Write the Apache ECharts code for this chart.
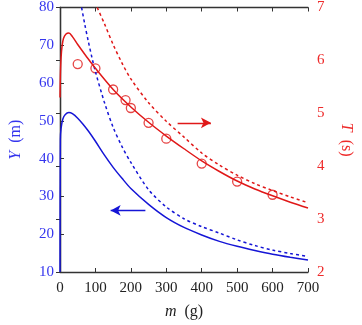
<!DOCTYPE html>
<html>
<head>
<meta charset="utf-8">
<script src="https://cdn.jsdelivr.net/npm/echarts@6/dist/echarts.min.js"></script>
<style>
  html, body { margin: 0; padding: 0; background: #fff; overflow: hidden; }
  #chart { width: 362px; height: 325px; }
</style>
</head>
<body>
<div id="chart"></div>
<script>
  // range Y (m) vs mass, left axis
  var ySolid = [[0,10],[1,45],[3,48],[8,50.5],[15,51.7],[25,52.2],[35,51.9],[50,50.7],[65,49.1],[80,47.3],[100,44.6],[125,41],[150,37.7],[175,34.8],[200,32.1],[250,27.9],[300,24.4],[350,21.8],[400,19.8],[450,18.1],[500,16.8],[550,15.7],[600,14.7],[650,13.9],[700,13.2]];
  var yDashed = [[61,80],[70,75.5],[80,71],[90,66.8],[100,63],[125,55],[150,48.3],[175,43.2],[200,39],[250,31.8],[300,27.2],[350,24.1],[400,22],[450,20.3],[500,18.5],[550,17],[600,15.8],[650,14.9],[700,14.1]];
  // time T (s), right axis
  var tSolid = [[0,5.3],[1,5.7],[3,6.05],[6,6.28],[10,6.42],[17,6.5],[25,6.52],[35,6.45],[50,6.3],[75,6.07],[100,5.85],[150,5.45],[200,5.12],[250,4.83],[300,4.57],[350,4.33],[400,4.1],[450,3.9],[500,3.72],[550,3.57],[600,3.44],[650,3.32],[700,3.21]];
  var tDashed = [[105,7],[125,6.7],[150,6.3],[175,5.95],[200,5.65],[250,5.2],[300,4.85],[350,4.55],[400,4.25],[450,4.02],[500,3.83],[550,3.67],[600,3.54],[650,3.42],[700,3.31]];
  var tMeasured = [[50,5.93],[100,5.85],[150,5.45],[185,5.25],[200,5.1],[250,4.82],[300,4.52],[400,4.05],[500,3.71],[600,3.46]];

  var blue = '#1515d6', red = '#e01818';
  var blueText = '#3535ee', redText = '#ee2a2a';
  var font = 'Liberation Serif';

  var chart = echarts.init(document.getElementById('chart'));
  chart.setOption({
    animation: false,
    grid: { left: 57, top: 6, width: 255, height: 268 },
    xAxis: [{
      type: 'value', min: 0, max: 700, interval: 100,
      name: '{i|m}  (g)', nameLocation: 'middle', nameGap: 32,
      nameTextStyle: { fontFamily: font, fontSize: 16, color: '#222',
        rich: { i: { fontStyle: 'italic', fontFamily: font, fontSize: 16, color: '#222' } } },
      axisLine: { lineStyle: { color: '#333', width: 1.3 } },
      axisTick: { inside: true, length: 4, lineStyle: { color: '#333' } },
      axisLabel: { fontFamily: font, fontSize: 15, color: '#222', margin: 9 },
      splitLine: { show: false }
    }, {
      type: 'value', min: 0, max: 700, interval: 100, position: 'top',
      axisLine: { show: true, lineStyle: { color: '#333', width: 1.3 } },
      axisTick: { inside: true, length: 4, lineStyle: { color: '#333' } },
      axisLabel: { show: false },
      splitLine: { show: false }
    }],
    yAxis: [{
      type: 'value', min: 10, max: 80, interval: 10,
      name: '{i|Y}  (m)', nameLocation: 'middle', nameGap: 36, nameRotate: 90,
      nameTextStyle: { fontFamily: font, fontSize: 16, color: blueText,
        rich: { i: { fontStyle: 'italic', fontFamily: font, fontSize: 16, color: blueText } } },
      axisLine: { show: true, lineStyle: { color: '#333', width: 1.3 } },
      axisTick: { inside: true, length: 4, lineStyle: { color: '#333' } },
      axisLabel: { fontFamily: font, fontSize: 15, color: blueText, margin: 6 },
      splitLine: { show: false }
    }, {
      type: 'value', min: 2, max: 7, interval: 1, position: 'right',
      name: '{i|T}  (s)', nameLocation: 'middle', nameGap: 30, nameRotate: -90,
      nameTextStyle: { fontFamily: font, fontSize: 16, color: redText,
        rich: { i: { fontStyle: 'italic', fontFamily: font, fontSize: 16, color: redText } } },
      axisLine: { show: true, lineStyle: { color: '#333', width: 1.3 } },
      axisTick: { inside: true, length: 4, lineStyle: { color: '#333' } },
      axisLabel: { fontFamily: font, fontSize: 15, color: redText, margin: 9 },
      splitLine: { show: false }
    }],
    series: [{
      type: 'line', yAxisIndex: 0, data: ySolid, smooth: 0.3, showSymbol: false,
      lineStyle: { color: blue, width: 1.5 },
      markLine: {
        silent: true, symbol: ['none', 'arrow'], symbolSize: [8, 10],
        label: { show: false },
        lineStyle: { color: blue, width: 1.3, type: 'solid' },
        data: [[{ coord: [241, 26.3] }, { coord: [143, 26.3] }]]
      }
    }, {
      type: 'line', yAxisIndex: 0, data: yDashed, smooth: 0.3, showSymbol: false,
      lineStyle: { color: blue, width: 1.5, type: [3, 3] }
    }, {
      type: 'line', yAxisIndex: 1, data: tSolid, smooth: 0.3, showSymbol: false,
      lineStyle: { color: red, width: 1.5 },
      markLine: {
        silent: true, symbol: ['none', 'arrow'], symbolSize: [8, 10],
        label: { show: false },
        lineStyle: { color: red, width: 1.3, type: 'solid' },
        data: [[{ coord: [332, 4.82] }, { coord: [426, 4.82] }]]
      }
    }, {
      type: 'line', yAxisIndex: 1, data: tDashed, smooth: 0.3, showSymbol: false,
      lineStyle: { color: red, width: 1.5, type: [3, 3] }
    }, {
      type: 'scatter', yAxisIndex: 1, data: tMeasured,
      symbol: 'circle', symbolSize: 9,
      itemStyle: { color: 'rgba(255,255,255,0)', borderColor: red, borderWidth: 1.3 }
    }]
  });
</script>
</body>
</html>
